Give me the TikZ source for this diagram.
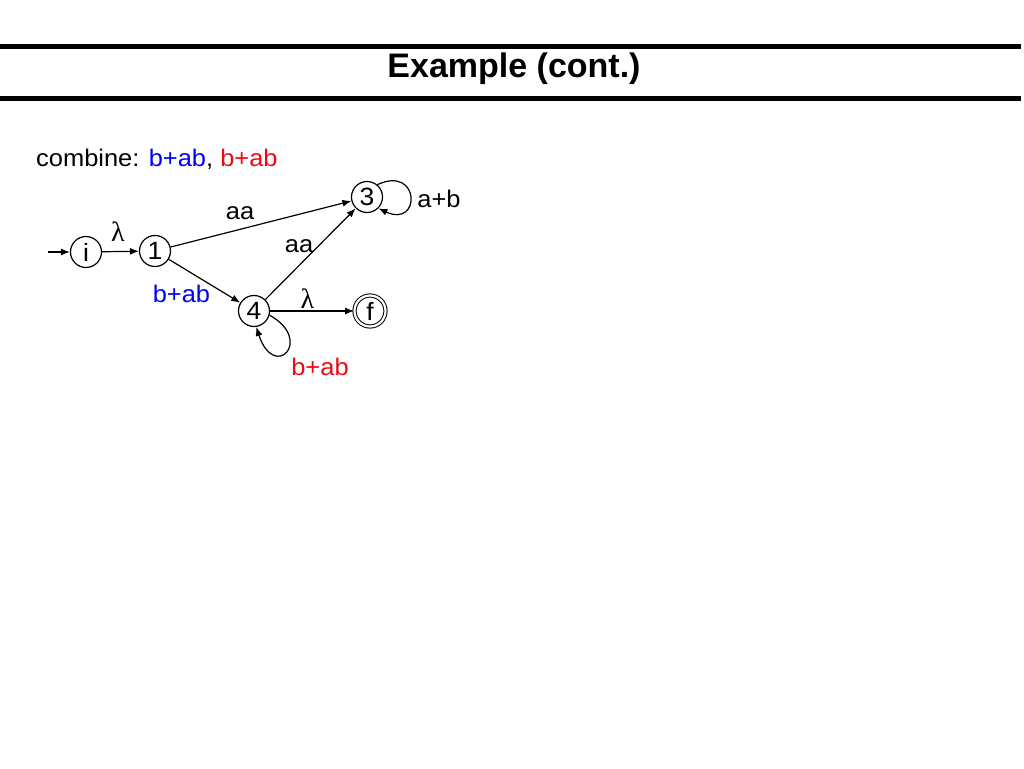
\documentclass[tikz,border=0pt]{standalone}
\usepackage{fontspec}
\setmainfont{Liberation Sans}[FakeStretch=1.06]
\newfontfamily\titlefont{Liberation Sans}
\newfontfamily\symf{Liberation Serif}
\usetikzlibrary{arrows.meta}
\definecolor{lblue}{RGB}{0,0,245}
\definecolor{lred}{RGB}{235,10,20}
\tikzset{
  state/.style={circle,draw,line width=1.2pt,minimum size=31pt,inner sep=0pt,font=\fontsize{25}{28}\selectfont},
  accept/.style={state,double,double distance=2.2pt,line width=1pt},
  edge/.style={line width=1.2pt,-{Latex[length=9pt,width=7pt]}},
  lbl/.style={inner sep=0pt,font=\fontsize{24}{28}\selectfont},
  lam/.style={inner sep=0pt,font=\fontsize{28}{32}\symf},
  rule/.style={line width=5pt}
}
\begin{document}
\begin{tikzpicture}[x=1pt,y=-1pt]
\useasboundingbox[fill=white] (0,0) rectangle (1024,768);
% title bars
\coordinate (t1a) at (0,46.5); \coordinate (t1b) at (1021,46.5);
\coordinate (t2a) at (0,98.5); \coordinate (t2b) at (1021,98.5);
\draw[rule] (t1a) -- (t1b);
\draw[rule] (t2a) -- (t2b);
\node[anchor=base,inner sep=0pt,font=\fontsize{34}{40}\titlefont\bfseries] (title) at (514,77.3) {Example (cont.)};
\node[anchor=base west,inner sep=0pt,font=\fontsize{24}{28}\selectfont] (comb) at (36,166.7) {combine: \textcolor{lblue}{b+ab}, \textcolor{lred}{b+ab}};
% states
\node[state] (i) at (86,252) {i};
\node[state] (n1) at (155,251) {1};
\node[state] (n4) at (254,311) {4};
\node[state] (n3) at (367,197) {3};
\node[accept] (f) at (370,311) {f};
\coordinate (start) at (48,252);
% edges
\draw[edge] (start) -- (i);
\draw[edge] (i) -- (n1);
\draw[edge] (n1) -- (n3);
\draw[edge] (n1) -- (n4);
\draw[edge] (n4) -- (n3);
\draw[edge] (n4) -- (f);
\draw[edge] (n3.50) .. controls +(43,-20) and +(43,20) .. (n3.-45);
\draw[edge] (n4.-15) .. controls +(45,25) and +(18,55) .. (n4.-82);
% labels
\node[lam] (l1) at (118,232) {λ};
\node[lbl] (l2) at (240,213) {aa};
\node[lbl] (l3) at (299,246) {aa};
\node[lbl,text=lblue] (l4) at (181.5,294) {b+ab};
\node[lam] (l5) at (307.5,299) {λ};
\node[lbl,text=lred] (l6) at (320,366.5) {b+ab};
\node[lbl] (l7) at (439,199) {a+b};
\end{tikzpicture}
\end{document}
